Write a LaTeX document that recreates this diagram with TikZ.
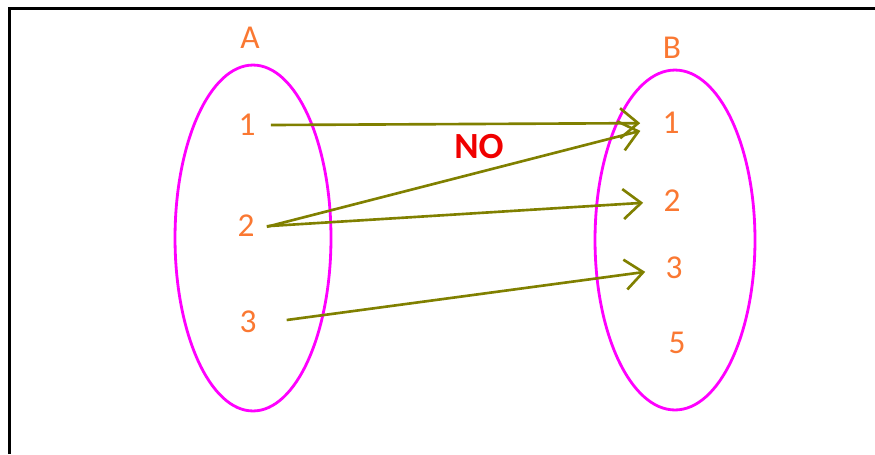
\documentclass[tikz,border=0pt]{standalone}
\usepackage{fontspec}
\setmainfont{Carlito}
\usetikzlibrary{arrows.meta}
\definecolor{setpink}{RGB}{255,0,255}
\definecolor{elemorange}{RGB}{250,120,50}
\definecolor{maparrow}{RGB}{128,128,0}
\definecolor{notered}{RGB}{240,0,0}

\begin{document}
\begin{tikzpicture}[x=0.02cm,y=-0.02cm,
  set/.style={draw=setpink,line width=1.6pt},
  elem/.style={text=elemorange,font=\fontsize{19}{22}\selectfont,inner sep=0.3cm},
  map/.style={draw=maparrow,line width=1.5pt,-{Straight Barb[length=0.36cm,width=0.6cm]}}]
  \useasboundingbox (0,0) rectangle (875,454);
  % frame
  \draw[line width=1.7pt] (9.5,454) -- (9.5,8.5) -- (875,8.5);
  % the two sets
  \draw[set] (253,238) ellipse [x radius=1.56cm,y radius=3.46cm];
  \draw[set] (675,240) ellipse [x radius=1.6cm,y radius=3.4cm];
  \node[elem] (setA) at (250,38) {A};
  \node[elem] (setB) at (672,48) {B};
  % elements
  \node[elem] (a1) at (247,125) {1};
  \node[elem] (a2) at (246,226) {2};
  \node[elem] (a3) at (248,322) {3};
  \node[elem] (b1) at (671,123) {1};
  \node[elem] (b2) at (672,201) {2};
  \node[elem] (b3) at (674,268) {3};
  \node[elem] (b5) at (677,343) {5};
  % mapping
  \draw[map,shorten >=0.14cm] (a1.east) -- (b1);
  \draw[map,shorten <=-0.06cm,shorten >=0.14cm] (a2.east) -- (b1);
  \draw[map,shorten <=-0.06cm,shorten >=0.1cm] (a2.east) -- (b2);
  \draw[map,shorten <=0.3cm,shorten >=0.1cm] (a3.east) -- (b3);
  \node[text=notered,font=\fontsize{21}{24}\selectfont\bfseries] (no) at (479,147) {NO};
\end{tikzpicture}
\end{document}
